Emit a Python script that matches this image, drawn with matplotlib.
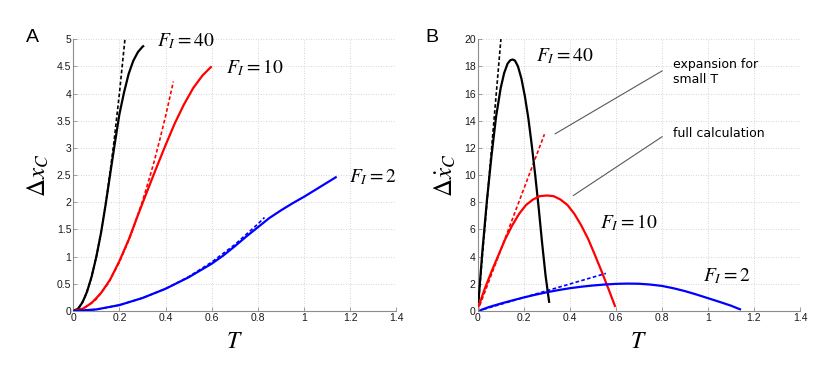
import matplotlib
matplotlib.use("Agg")
import matplotlib.pyplot as plt
from matplotlib.ticker import FuncFormatter

# ---------------- data ----------------
# Panel A : full calculation
T_A40 = [0, 0.02, 0.04, 0.06, 0.08, 0.1, 0.12, 0.14, 0.16, 0.18, 0.2, 0.22, 0.24, 0.26, 0.28, 0.3, 0.307]
dx_A40 = [0, 0.04, 0.16, 0.36, 0.64, 1.0, 1.43, 1.95, 2.52, 3.08, 3.62, 4.02, 4.36, 4.6, 4.76, 4.86, 4.88]
T_A10 = [0, 0.04, 0.08, 0.12, 0.16, 0.2, 0.24, 0.28, 0.32, 0.36, 0.4, 0.44, 0.48, 0.52, 0.56, 0.6]
dx_A10 = [0, 0.04, 0.15, 0.33, 0.58, 0.92, 1.31, 1.76, 2.2, 2.63, 3.05, 3.45, 3.8, 4.1, 4.33, 4.5]
T_A2 = [0, 0.1, 0.2, 0.3, 0.4, 0.5, 0.6, 0.65, 0.7, 0.75, 0.8, 0.85, 0.9, 0.95, 1.0, 1.05, 1.1, 1.142]
dx_A2 = [0, 0.03, 0.11, 0.24, 0.41, 0.62, 0.87, 1.02, 1.19, 1.37, 1.54, 1.71, 1.85, 1.98, 2.1, 2.23, 2.36, 2.47]
# Panel A : expansion for small T
Te_A40 = [0, 0.025, 0.05, 0.075, 0.1, 0.125, 0.15, 0.175, 0.2, 0.224]
dxe_A40 = [0, 0.06, 0.25, 0.56, 1.0, 1.56, 2.25, 3.06, 4.0, 5.0]
Te_A10 = [0, 0.05, 0.1, 0.15, 0.2, 0.25, 0.3, 0.325, 0.35, 0.375, 0.4, 0.434]
dxe_A10 = [0, 0.06, 0.22, 0.5, 0.9, 1.4, 2.02, 2.37, 2.74, 3.15, 3.58, 4.22]
Te_A2 = [0, 0.1, 0.2, 0.3, 0.4, 0.5, 0.6, 0.7, 0.8, 0.829]
dxe_A2 = [0, 0.03, 0.11, 0.24, 0.41, 0.63, 0.9, 1.22, 1.6, 1.72]

# Panel B : full calculation
T_B40 = [0.003, 0.02, 0.04, 0.06, 0.08, 0.1, 0.115, 0.13, 0.142, 0.152, 0.162, 0.175,
         0.19, 0.205, 0.22, 0.235, 0.25, 0.265, 0.28, 0.295, 0.311]
v_B40 = [0.6, 4.3, 8.1, 11.4, 14.3, 16.4, 17.5, 18.2, 18.45, 18.5, 18.42, 18.0,
         17.1, 15.8, 14.2, 12.2, 10.0, 7.6, 5.0, 2.6, 0.6]
T_B10 = [0.003, 0.03, 0.06, 0.09, 0.12, 0.15, 0.18, 0.21, 0.24, 0.27, 0.3, 0.33,
         0.36, 0.39, 0.42, 0.45, 0.48, 0.51, 0.54, 0.57, 0.598]
v_B10 = [0.3, 1.6, 2.9, 4.1, 5.3, 6.3, 7.15, 7.8, 8.2, 8.45, 8.5, 8.45,
         8.2, 7.8, 7.15, 6.3, 5.3, 4.1, 2.85, 1.55, 0.3]
T_B2 = [0.013, 0.05, 0.1, 0.15, 0.2, 0.25, 0.3, 0.35, 0.4, 0.45, 0.5, 0.55, 0.6,
        0.65, 0.7, 0.75, 0.8, 0.85, 0.9, 0.95, 1.0, 1.05, 1.1, 1.144]
v_B2 = [0.07, 0.3, 0.55, 0.78, 1.0, 1.2, 1.38, 1.54, 1.68, 1.79, 1.88, 1.95, 2.0,
        2.02, 2.01, 1.95, 1.85, 1.68, 1.47, 1.22, 0.95, 0.68, 0.4, 0.1]
# Panel B : expansion for small T
Te_B40 = [0, 0.101]
ve_B40 = [0, 20.0]
Te_B10 = [0, 0.29]
ve_B10 = [0, 13.0]
Te_B2 = [0, 0.557]
ve_B2 = [0, 2.77]

x_ticks = [0, 0.2, 0.4, 0.6, 0.8, 1.0, 1.2, 1.4]
yA_ticks = [0, 0.5, 1, 1.5, 2, 2.5, 3, 3.5, 4, 4.5, 5]
yB_ticks = [0, 2, 4, 6, 8, 10, 12, 14, 16, 18, 20]
F_labels = [r"$F_I = 40$", r"$F_I = 10$", r"$F_I = 2$"]

# ---------------- figure ----------------
plt.rcParams["mathtext.fontset"] = "stix"
fig = plt.figure(figsize=(8.3, 3.69), dpi=100)
axA = fig.add_axes([0.0883, 0.157, 0.389, 0.737])
axB = fig.add_axes([0.5755, 0.157, 0.3883, 0.737])

colors = ["black", "red", "blue"]
lw_full = 1.6
dash = (0, (2.2, 1.4))
lw_dash = 1.2


def style(ax, yticks, ymax):
    ax.set_xlim(0, 1.4)
    ax.set_ylim(0, ymax)
    ax.set_xticks(x_ticks)
    ax.set_yticks(yticks)
    fmt = FuncFormatter(lambda v, p: "%g" % v)
    ax.xaxis.set_major_formatter(fmt)
    ax.yaxis.set_major_formatter(fmt)
    ax.grid(True, linestyle=(0, (1, 2)), color="0.78", linewidth=0.6)
    ax.set_axisbelow(True)
    for s in ["top", "right"]:
        ax.spines[s].set_visible(False)
    for s in ["left", "bottom"]:
        ax.spines[s].set_color("0.55")
        ax.spines[s].set_linewidth(0.8)
    ax.tick_params(direction="in", length=3, width=0.6, color="0.55",
                   labelsize=7.5, pad=1.5, labelcolor="0.1")
    for lab in ax.get_xticklabels() + ax.get_yticklabels():
        lab.set_family("Liberation Sans")
    ax.set_xlabel(r"$T$", fontsize=17, labelpad=4)


# Panel A
for Te, ye, c in [(Te_A40, dxe_A40, colors[0]), (Te_A10, dxe_A10, colors[1]), (Te_A2, dxe_A2, colors[2])]:
    axA.plot(Te, ye, color=c, linestyle=dash, lw=lw_dash, zorder=2)
for T, y, c in [(T_A40, dx_A40, colors[0]), (T_A10, dx_A10, colors[1]), (T_A2, dx_A2, colors[2])]:
    axA.plot(T, y, color=c, lw=lw_full, zorder=3, solid_capstyle="butt", solid_joinstyle="round")
style(axA, yA_ticks, 5)
axA.set_ylabel(r"$\Delta x_C$", fontsize=18, labelpad=4)
axA.text(0.362, 4.97, F_labels[0], fontsize=14, va="center", ha="left")
axA.text(0.662, 4.48, F_labels[1], fontsize=14, va="center", ha="left")
axA.text(1.196, 2.47, F_labels[2], fontsize=14, va="center", ha="left", clip_on=False)

# Panel B
for Te, ye, c in [(Te_B40, ve_B40, colors[0]), (Te_B10, ve_B10, colors[1]), (Te_B2, ve_B2, colors[2])]:
    axB.plot(Te, ye, color=c, linestyle=dash, lw=lw_dash, zorder=2)
for T, y, c in [(T_B40, v_B40, colors[0]), (T_B10, v_B10, colors[1]), (T_B2, v_B2, colors[2])]:
    axB.plot(T, y, color=c, lw=lw_full, zorder=3, solid_capstyle="butt", solid_joinstyle="round")
style(axB, yB_ticks, 20)
axB.set_ylabel(r"$\Delta \dot{x}_C$", fontsize=18, labelpad=4)
axB.text(0.253, 18.77, F_labels[0], fontsize=14, va="center", ha="left")
axB.text(0.531, 6.53, F_labels[1], fontsize=14, va="center", ha="left")
axB.text(0.98, 2.6, F_labels[2], fontsize=14, va="center", ha="left")

axB.annotate("", xy=(0.336, 13.03), xytext=(0.802, 17.67),
             arrowprops=dict(arrowstyle="-", color="0.35", lw=0.8, shrinkA=0, shrinkB=0))
axB.annotate("", xy=(0.415, 8.49), xytext=(0.802, 12.83),
             arrowprops=dict(arrowstyle="-", color="0.35", lw=0.8, shrinkA=0, shrinkB=0))
axB.text(0.847, 17.6, "expansion for\nsmall T", fontsize=9, va="center", ha="left",
         family="DejaVu Sans", linespacing=1.2)
axB.text(0.847, 13.03, "full calculation", fontsize=9, va="center", ha="left",
         family="DejaVu Sans")

fig.text(26 / 830, 1 - 37 / 369, "A", fontsize=14, family="Liberation Sans", va="center", ha="left")
fig.text(425 / 830, 1 - 37 / 369, "B", fontsize=14, family="Liberation Sans", va="center", ha="left")

fig.savefig("out.png", dpi=100)
